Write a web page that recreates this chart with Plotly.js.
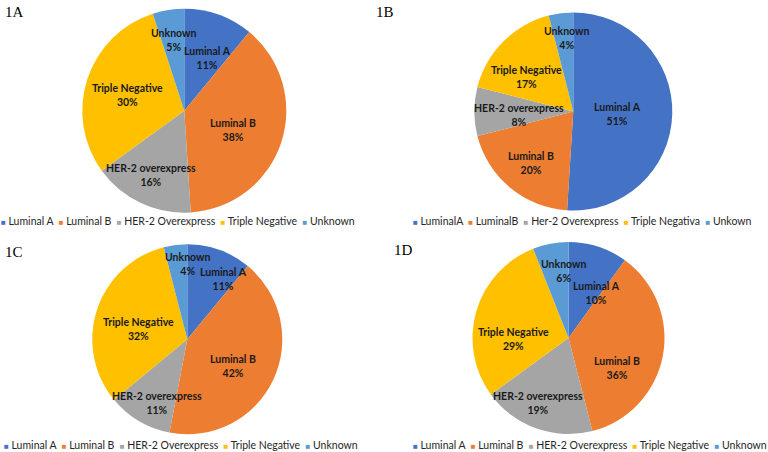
<!DOCTYPE html>
<html><head><meta charset="utf-8">
<script src="https://cdn.plot.ly/plotly-3.0.1.min.js"></script>
<style>html,body{margin:0;padding:0;background:#fff}#chart{width:768px;height:452px}</style>
</head><body><div id="chart"></div>
<script>
// ---- data ----
const sliceLabels = ["Luminal A", "Luminal B", "HER-2 overexpress", "Triple Negative", "Unknown"];
const legendLabelsA = ["Luminal A", "Luminal B", "HER-2 Overexpress", "Triple Negative", "Unknown"];
const legendLabelsB = ["LuminalA", "LuminalB", "Her-2 Overexpress", "Triple Negativa", "Unkown"];
const valuesA = [11, 38, 16, 30, 5];
const valuesB = [51, 20, 8, 17, 4];
const valuesC = [11, 42, 11, 32, 4];
const valuesD = [10, 36, 19, 29, 6];
const panelTitles = ["1A", "1B", "1C", "1D"];

// ---- style / layout ----
const colors = ["#4472C4", "#ED7D31", "#A5A5A5", "#FFC000", "#5B9BD5"];
const W = 768, H = 452;
// label placement: radial fraction of radius and angular nudge (deg) from slice mid-angle
const panels = [
  {title: panelTitles[0], values: valuesA, legend: legendLabelsA, cx: 184.3, cy: 110.7, r: 102, tx: 3, ty: 2, lx: 178, ly: 221,
   lr: [0.57, 0.51, 0.71, 0.58, 0.70], la: [4, 4, 2, -3, 0]},
  {title: panelTitles[1], values: valuesB, legend: legendLabelsB, cx: 573.3, cy: 111.5, r: 99, tx: 374, ty: 2, lx: 582, ly: 221,
   lr: [0.45, 0.67, 0.55, 0.59, 0.75], la: [1, 0, -4, -9, 2]},
  {title: panelTitles[2], values: valuesC, legend: legendLabelsA, cx: 187.3, cy: 339.3, r: 95, tx: 3, ty: 242, lx: 180.5, ly: 445,
   lr: [0.74, 0.56, 0.74, 0.52, 0.79], la: [11.5, 5, -5, -6, 7]},
  {title: panelTitles[3], values: valuesD, legend: legendLabelsA, cx: 568.5, cy: 338, r: 96, tx: 392, ty: 240, lx: 590, ly: 445,
   lr: [0.55, 0.59, 0.75, 0.57, 0.70], la: [14, 21, 5, -17, 6.5]}
];

const traces = [];
const annotations = [];
panels.forEach(p => {
  traces.push({
    type: 'pie',
    values: p.values,
    labels: sliceLabels,
    sort: false,
    direction: 'clockwise',
    rotation: 0,
    textinfo: 'none',
    showlegend: false,
    marker: {colors: colors, line: {width: 0}},
    domain: {x: [(p.cx - p.r) / W, (p.cx + p.r) / W], y: [1 - (p.cy + p.r) / H, 1 - (p.cy - p.r) / H]}
  });
  // slice labels
  const total = p.values.reduce((a, b) => a + b, 0);
  let cum = 0;
  p.values.forEach((v, i) => {
    const th = ((cum + v / 2) / total * 360 + p.la[i]) * Math.PI / 180;
    cum += v;
    const f = p.lr[i];
    const px = p.cx + f * p.r * Math.sin(th);
    const py = p.cy - f * p.r * Math.cos(th);
    annotations.push({
      xref: 'paper', yref: 'paper', x: px / W, y: 1 - py / H,
      text: sliceLabels[i] + '<br>' + v + '%', showarrow: false,
      font: {family: 'Lato, sans-serif', size: 10.5, color: '#1a1a1a', weight: 700},
      xanchor: 'center', yanchor: 'middle'
    });
  });
  // legend row
  const legText = p.legend.map((n, i) =>
    '<span style="color:' + colors[i] + ';font-size:8px">■</span> ' + n).join('  ');
  annotations.push({
    xref: 'paper', yref: 'paper', x: p.lx / W, y: 1 - p.ly / H,
    text: legText, showarrow: false,
    font: {family: 'Lato, sans-serif', size: 10.5, color: '#262626'},
    xanchor: 'center', yanchor: 'middle'
  });
  // panel title
  annotations.push({
    xref: 'paper', yref: 'paper', x: p.tx / W, y: 1 - p.ty / H,
    text: p.title, showarrow: false,
    font: {family: '"Liberation Serif", "Times New Roman", serif', size: 15, color: '#000'},
    xanchor: 'left', yanchor: 'top'
  });
});

Plotly.newPlot('chart', traces, {
  width: W, height: H,
  margin: {l: 0, r: 0, t: 0, b: 0},
  paper_bgcolor: '#fff',
  showlegend: false,
  annotations: annotations
}, {displayModeBar: false, staticPlot: true});
</script>
</body></html>
